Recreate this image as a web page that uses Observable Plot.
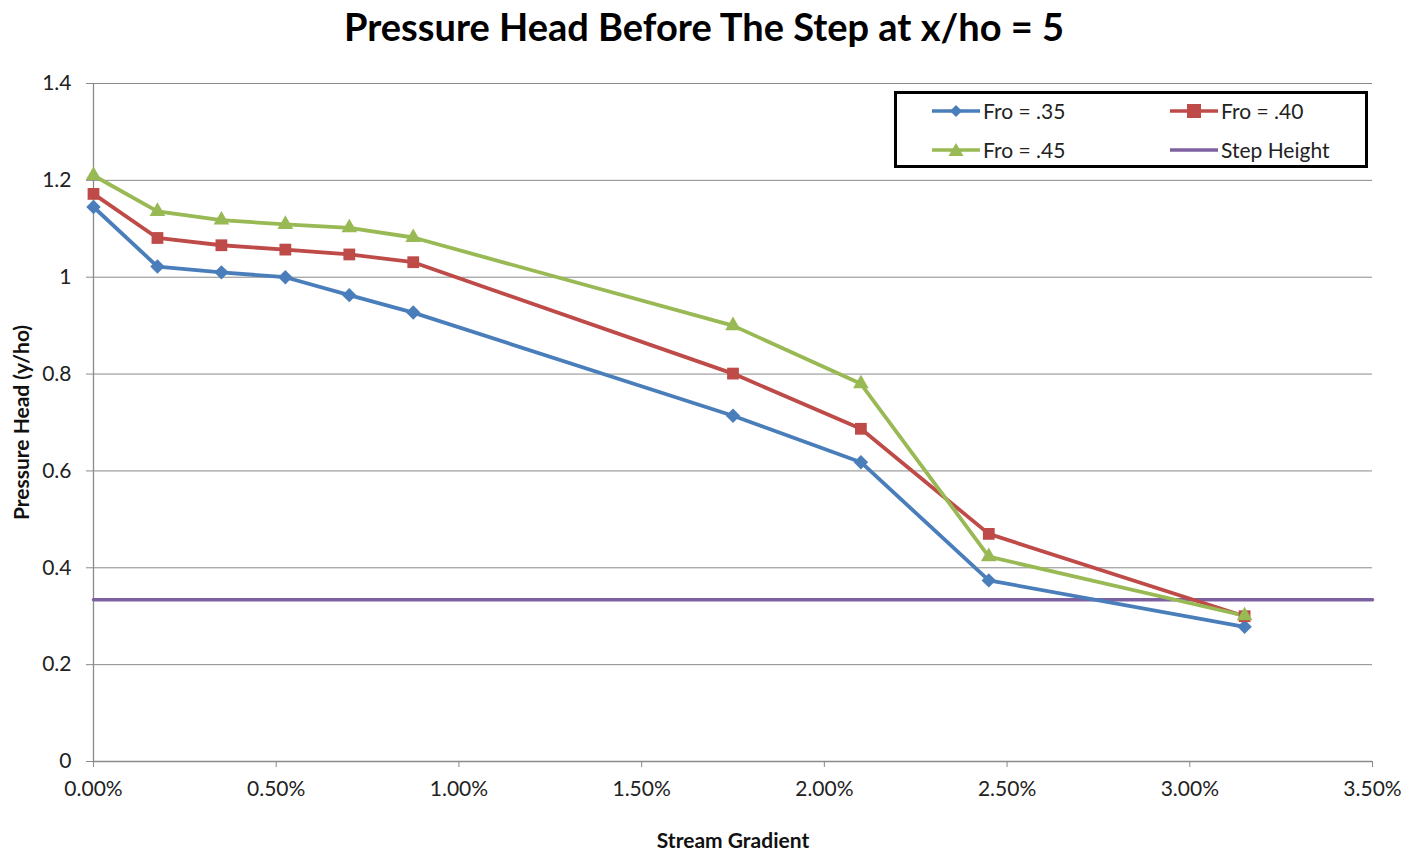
<!DOCTYPE html>
<html>
<head>
<meta charset="utf-8">
<script src="https://cdn.jsdelivr.net/npm/d3@7"></script>
<script src="https://cdn.jsdelivr.net/npm/@observablehq/plot@0.6"></script>
<style>
  html, body { margin: 0; padding: 0; background: #fff; }
  #wrap { position: relative; width: 1408px; height: 855px; font-family: Lato, "Open Sans", sans-serif; }
  #title { height: 58px; line-height: 52px; text-align: center; font-size: 38px; font-weight: bold; color: #000; }
  #legend { position: absolute; left: 894px; top: 91px; width: 468px; height: 71px; border: 3px solid #000; background: #fff; }
  .item { position: absolute; display: flex; align-items: center; font-size: 21px; color: #222; }
  .item svg { display: block; margin-right: 3px; }
</style>
</head>
<body>
<div id="wrap">
  <div id="title">Pressure Head Before The Step at x/ho = 5</div>
  <div id="chart"></div>
  <div id="legend"></div>
</div>
<script>
// Stream gradient (%) at each measurement station
const gradient = [0, 0.175, 0.35, 0.525, 0.70, 0.875, 1.75, 2.10, 2.45, 3.15];
// Pressure head y/ho for each upstream Froude number
const fro35 = [1.145, 1.022, 1.010, 1.000, 0.963, 0.927, 0.714, 0.618, 0.374, 0.278];
const fro40 = [1.172, 1.081, 1.066, 1.057, 1.047, 1.031, 0.801, 0.687, 0.470, 0.300];
const fro45 = [1.210, 1.136, 1.118, 1.109, 1.102, 1.082, 0.900, 0.780, 0.423, 0.301];
// Step height y/ho, constant across the gradient range
const stepHeight = 0.334;
const stepRange = [0, 3.5];

const seriesNames = ["Fro = .35", "Fro = .40", "Fro = .45"];
const seriesValues = [fro35, fro40, fro45];
const seriesColors = ["#4a7ebb", "#be4b48", "#98b954"];
const seriesSymbols = ["diamond2", "square2", "triangle2"];
const seriesSizes = [6.5, 7.5, 7.5];
const stepColor = "#7d60a0";

const xTicks = [0, 0.5, 1.0, 1.5, 2.0, 2.5, 3.0, 3.5];
const yTicks = [0, 0.2, 0.4, 0.6, 0.8, 1.0, 1.2, 1.4];

const rows = seriesNames.flatMap((name, i) =>
  gradient.map((g, j) => ({series: name, x: g, y: seriesValues[i][j]}))
);
const stepRows = stepRange.map(x => ({x, y: stepHeight}));

const gridColor = "#8a8a8a";

const marks = [
  Plot.gridY(yTicks, {stroke: gridColor, strokeOpacity: 1, strokeWidth: 1}),
  Plot.ruleX([0], {stroke: gridColor, strokeWidth: 1.3}),
  Plot.ruleY([0], {stroke: gridColor, strokeWidth: 1.3}),
  Plot.axisY({ticks: yTicks, tickSize: 7, tickPadding: 15, stroke: gridColor, fill: "#222",
    tickFormat: d => String(+d.toFixed(1)), label: null}),
  Plot.axisX({ticks: xTicks, tickSize: 6, tickPadding: 14, stroke: gridColor, fill: "#222",
    tickFormat: d => d.toFixed(2) + "%", label: null}),
  Plot.line(stepRows, {x: "x", y: "y", stroke: stepColor, strokeWidth: 3.5})
];
seriesNames.forEach((name, i) => {
  const data = rows.filter(d => d.series === name);
  marks.push(Plot.line(data, {x: "x", y: "y", stroke: seriesColors[i], strokeWidth: 3.8}));
});
seriesNames.forEach((name, i) => {
  const data = rows.filter(d => d.series === name);
  marks.push(Plot.dot(data, {x: "x", y: "y", symbol: seriesSymbols[i], r: seriesSizes[i],
    fill: seriesColors[i], stroke: "none"}));
});
marks.push(Plot.text(["Stream Gradient"], {frameAnchor: "bottom", dy: 86, fontWeight: "bold", fontSize: 21, fill: "#111"}));
marks.push(Plot.text(["Pressure Head (y/ho)"], {frameAnchor: "left", textAnchor: "middle", dx: -71, rotate: -90, fontWeight: "bold", fontSize: 21, fill: "#111"}));

const chart = Plot.plot({
  width: 1408,
  height: 797,
  marginTop: 25,
  marginBottom: 94,
  marginLeft: 93,
  marginRight: 36,
  style: {fontFamily: "Lato, 'Open Sans', sans-serif", fontSize: "21px", background: "#fff"},
  x: {domain: [0, 3.5]},
  y: {domain: [0, 1.4]},
  marks
});
document.getElementById("chart").appendChild(chart);

// Legend: line swatches with series markers
const legend = document.getElementById("legend");
const legendItems = [
  {label: seriesNames[0], color: seriesColors[0], symbol: "diamond", left: 35, top: 4},
  {label: seriesNames[1], color: seriesColors[1], symbol: "square", left: 273, top: 4},
  {label: seriesNames[2], color: seriesColors[2], symbol: "triangle", left: 35, top: 43},
  {label: "Step Height", color: stepColor, symbol: null, left: 273, top: 43}
];
function markerShape(symbol, color) {
  const cx = 24, cy = 10;
  if (symbol === "diamond") return `<path d="M${cx},${cy-6}L${cx+6},${cy}L${cx},${cy+6}L${cx-6},${cy}Z" fill="${color}"/>`;
  if (symbol === "square") return `<rect x="${cx-7}" y="${cy-7}" width="14" height="14" fill="${color}"/>`;
  if (symbol === "triangle") return `<path d="M${cx},${cy-7}L${cx+7.5},${cy+6}L${cx-7.5},${cy+6}Z" fill="${color}"/>`;
  return "";
}
legendItems.forEach(it => {
  const div = document.createElement("div");
  div.className = "item";
  div.style.left = it.left + "px";
  div.style.top = it.top + "px";
  div.innerHTML = `<svg width="48" height="20"><line x1="0" y1="10" x2="48" y2="10" stroke="${it.color}" stroke-width="3.5"/>${markerShape(it.symbol, it.color)}</svg><span>${it.label}</span>`;
  legend.appendChild(div);
});
</script>
</body>
</html>
